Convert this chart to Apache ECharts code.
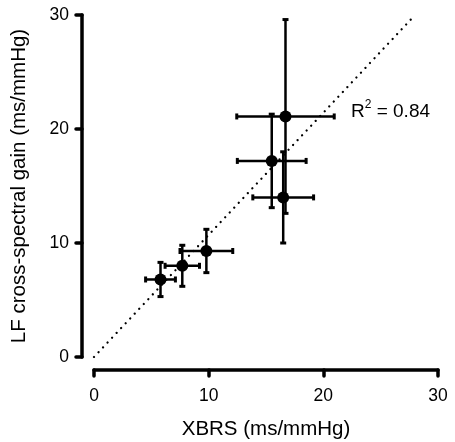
<!DOCTYPE html>
<html>
<head>
<meta charset="utf-8">
<script src="https://cdn.jsdelivr.net/npm/echarts@6/dist/echarts.min.js"></script>
<style>html,body{margin:0;padding:0;background:#fff;}#c{width:455px;height:442px;}</style>
</head>
<body>
<div id="c"></div>
<script>
// Data
const xbrs    = [5.8, 7.7, 9.8, 15.5, 16.5, 16.7];
const lfGain  = [6.8, 8.0, 9.3, 17.2, 14.0, 21.1];
const xErr    = [1.3, 1.5, 2.3, 3.0, 2.65, 4.25];
const yErr    = [1.5, 1.8, 1.9, 4.1, 4.0, 8.5];
const fitLine = [[0, 0], [28, 30]];
const xTicks  = [0, 10, 20, 30];
const yTicks  = [0, 10, 20, 30];
const r2Text  = '0.84';

const font = '"Liberation Sans", Arial, sans-serif';
const points = xbrs.map((x, i) => [x, lfGain[i], xErr[i], yErr[i]]);

const chart = echarts.init(document.getElementById('c'));
chart.setOption({
  animation: false,
  backgroundColor: '#fff',
  grid: { left: 94, right: 17, top: 15, bottom: 85, outerBoundsMode: 'none', containLabel: false },
  xAxis: {
    type: 'value', min: 0, max: 30, interval: 10, offset: 13,
    name: 'XBRS (ms/mmHg)', nameLocation: 'middle', nameGap: 49,
    nameTextStyle: { fontFamily: font, fontSize: 20.5, color: '#000' },
    axisLine: { onZero: false, lineStyle: { color: '#000', width: 3.5, cap: 'round' } },
    axisTick: { show: true, length: 6, lineStyle: { color: '#000', width: 3.5, cap: 'round' } },
    axisLabel: { fontFamily: font, fontSize: 17.5, color: '#000', margin: 17,
      formatter: v => xTicks.includes(v) ? String(v) : '' },
    splitLine: { show: false }
  },
  yAxis: {
    type: 'value', min: 0, max: 30, interval: 10, offset: 12,
    name: 'LF cross-spectral gain (ms/mmHg)', nameLocation: 'middle', nameGap: 52,
    nameTextStyle: { fontFamily: font, fontSize: 20.5, color: '#000' },
    axisLine: { onZero: false, lineStyle: { color: '#000', width: 3.5, cap: 'round' } },
    axisTick: { show: true, length: 6, lineStyle: { color: '#000', width: 3.5, cap: 'round' } },
    axisLabel: { fontFamily: font, fontSize: 17.5, color: '#000', margin: 13,
      formatter: v => yTicks.includes(v) ? String(v) : '' },
    splitLine: { show: false }
  },
  series: [
    {
      type: 'line', data: fitLine, symbol: 'none', silent: true,
      lineStyle: { color: '#000', width: 2.3, type: [0.01, 6.6], cap: 'round', opacity: 1 },
      z: 1
    },
    {
      type: 'custom', data: points, z: 3,
      renderItem: function (params, api) {
        const x = api.value(0), y = api.value(1), ex = api.value(2), ey = api.value(3);
        const l = api.coord([x - ex, y]), r = api.coord([x + ex, y]);
        const t = api.coord([x, y + ey]), b = api.coord([x, y - ey]);
        const cap = 3;
        const st = { stroke: '#000', lineWidth: 2.5 };
        const cst = { stroke: '#000', lineWidth: 3 };
        return {
          type: 'group',
          children: [
            { type: 'line', shape: { x1: l[0], y1: l[1], x2: r[0], y2: r[1] }, style: st },
            { type: 'line', shape: { x1: t[0], y1: t[1], x2: b[0], y2: b[1] }, style: st },
            { type: 'line', shape: { x1: l[0], y1: l[1] - cap, x2: l[0], y2: l[1] + cap }, style: cst },
            { type: 'line', shape: { x1: r[0], y1: r[1] - cap, x2: r[0], y2: r[1] + cap }, style: cst },
            { type: 'line', shape: { x1: t[0] - cap, y1: t[1], x2: t[0] + cap, y2: t[1] }, style: cst },
            { type: 'line', shape: { x1: b[0] - cap, y1: b[1], x2: b[0] + cap, y2: b[1] }, style: cst }
          ]
        };
      }
    },
    {
      type: 'scatter', data: points.map(p => [p[0], p[1]]), symbol: 'circle', symbolSize: 12,
      itemStyle: { color: '#000', opacity: 1 }, z: 4
    }
  ],
  graphic: [{
    type: 'text', left: 351, top: 99,
    style: {
      text: '{a|R}{b|2}{a| = ' + r2Text + '}',
      rich: {
        a: { fontFamily: font, fontSize: 19, fill: '#000', lineHeight: 22, verticalAlign: 'bottom' },
        b: { fontFamily: font, fontSize: 12, fill: '#000', lineHeight: 22, verticalAlign: 'top' }
      }
    }
  }]
});
</script>
</body>
</html>
